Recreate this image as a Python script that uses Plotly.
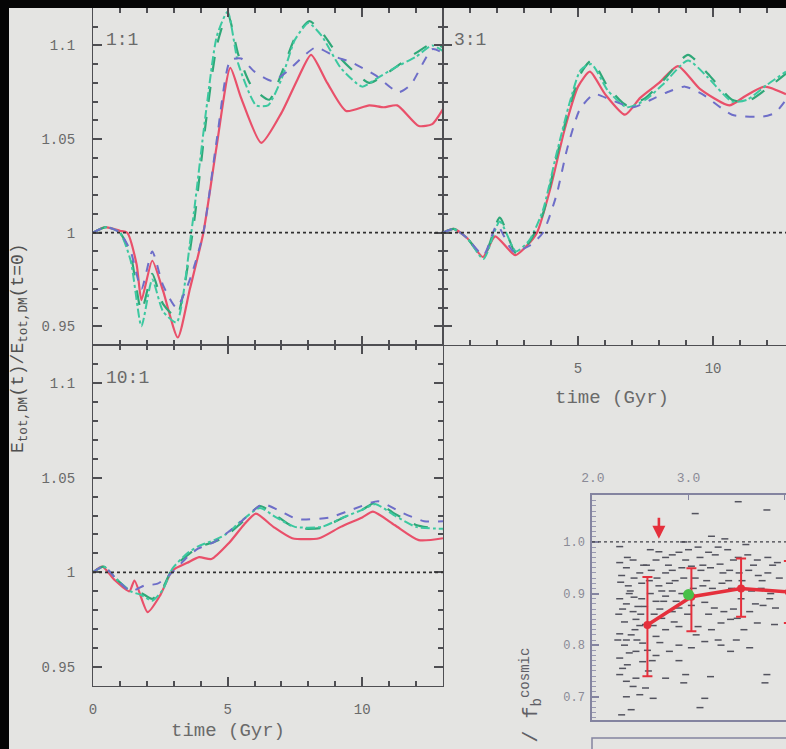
import plotly.graph_objects as go

W, H = 786, 749

# ---------------- energy ratio curves, E_tot,DM(t) / E_tot,DM(t=0) ----------------
# 1:1 merger
t11_red = [0, 0.45, 1.0, 1.27, 1.62, 1.8, 2.2, 2.6, 3.15, 3.6, 4.1, 4.58, 5.1, 5.5, 6.25, 7.0, 7.6, 8.1, 8.7, 9.4, 10.26, 10.8, 11.3, 12.1, 12.6, 13.0]
e11_red = [1.0, 1.003, 1.001, 1.0, 0.983, 0.964, 0.985, 0.969, 0.944, 0.970, 1.0, 1.045, 1.088, 1.072, 1.048, 1.064, 1.082, 1.095, 1.080, 1.065, 1.068, 1.067, 1.068, 1.057, 1.058, 1.066]

t11_green = [0, 0.5, 1.0, 1.4, 1.8, 2.2, 2.6, 3.1, 3.7, 4.2, 4.6, 5.0, 5.4, 5.9, 6.55, 7.0, 7.5, 8.04, 8.5, 9.2, 10.26, 10.8, 11.4, 12.0, 12.6, 13.0]
e11_green = [1.0, 1.003, 1.0, 0.988, 0.958, 0.978, 0.962, 0.955, 1.0, 1.06, 1.10, 1.117, 1.095, 1.078, 1.071, 1.085, 1.104, 1.113, 1.107, 1.093, 1.080, 1.084, 1.090, 1.096, 1.101, 1.099]

t11_teal = [0, 0.5, 1.0, 1.4, 1.8, 2.2, 2.6, 3.1, 3.65, 4.2, 4.6, 5.0, 5.4, 6.06, 6.5, 7.0, 7.5, 8.0, 8.5, 9.2, 10.0, 10.5, 11.2, 12.0, 12.6, 13.0]
e11_teal = [1.0, 1.003, 1.0, 0.985, 0.950, 0.975, 0.958, 0.952, 1.0, 1.065, 1.105, 1.118, 1.09, 1.068, 1.068, 1.082, 1.103, 1.112, 1.105, 1.088, 1.078, 1.082, 1.088, 1.094, 1.100, 1.097]

t11_blue = [0, 0.5, 1.0, 1.4, 1.8, 2.2, 2.6, 3.1, 3.6, 4.1, 4.6, 5.1, 5.5, 6.0, 6.67, 7.2, 7.8, 8.28, 9.0, 9.6, 10.5, 11.35, 11.8, 12.6, 13.0]
e11_blue = [1.0, 1.003, 1.0, 0.99, 0.970, 0.990, 0.972, 0.960, 0.975, 1.0, 1.05, 1.092, 1.093, 1.086, 1.081, 1.086, 1.094, 1.099, 1.094, 1.091, 1.084, 1.075, 1.079, 1.098, 1.096]

# 3:1 merger
t31_red = [0, 0.4, 0.9, 1.48, 1.93, 2.67, 3.1, 3.48, 4.0, 4.5, 5.0, 5.44, 6.0, 6.74, 7.3, 8.0, 8.7, 9.5, 10.6, 11.2, 11.9, 12.7]
e31_red = [1.0, 1.002, 0.997, 0.987, 0.998, 0.988, 0.993, 1.0, 1.025, 1.055, 1.078, 1.086, 1.074, 1.063, 1.072, 1.080, 1.089, 1.077, 1.068, 1.073, 1.078, 1.074]

t31_green = [0, 0.4, 0.9, 1.5, 2.1, 2.7, 3.2, 3.7, 4.2, 4.7, 5.1, 5.5, 6.1, 6.8, 7.5, 8.2, 9.07, 9.8, 10.7, 11.26, 12.0, 12.7]
e31_green = [1.0, 1.002, 0.997, 0.987, 1.008, 0.989, 0.995, 1.01, 1.04, 1.068, 1.085, 1.092, 1.078, 1.068, 1.072, 1.082, 1.095, 1.085, 1.071, 1.070, 1.077, 1.085]

t31_teal = [0, 0.4, 0.9, 1.5, 2.1, 2.7, 3.2, 3.7, 4.2, 4.7, 5.1, 5.5, 6.1, 6.8, 7.5, 8.2, 9.07, 9.8, 10.7, 11.26, 12.0, 12.7]
e31_teal = [1.0, 1.002, 0.997, 0.986, 1.006, 0.990, 0.996, 1.012, 1.042, 1.070, 1.087, 1.090, 1.076, 1.067, 1.071, 1.080, 1.092, 1.083, 1.070, 1.071, 1.079, 1.086]

t31_blue = [0, 0.4, 0.9, 1.5, 2.0, 2.6, 3.2, 3.7, 4.2, 4.6, 5.07, 5.6, 6.2, 7.04, 7.7, 8.3, 8.96, 9.6, 10.7, 11.85, 12.3, 12.7]
e31_blue = [1.0, 1.002, 0.997, 0.988, 1.004, 0.990, 0.993, 1.0, 1.02, 1.045, 1.066, 1.074, 1.071, 1.067, 1.071, 1.075, 1.078, 1.074, 1.063, 1.062, 1.064, 1.071]

# 10:1 merger
t101_red = [0, 0.35, 0.8, 1.35, 1.54, 2.03, 2.5, 2.95, 3.5, 3.94, 4.4, 5.05, 5.6, 6.05, 6.7, 7.4, 8.4, 9.2, 10.0, 10.4, 11.2, 12.1, 13.0]
e101_red = [1.0, 1.003, 0.996, 0.990, 0.9957, 0.979, 0.988, 1.001, 1.005, 1.008, 1.007, 1.0155, 1.025, 1.031, 1.024, 1.018, 1.018, 1.024, 1.029, 1.032, 1.025, 1.017, 1.018]

t101_green = [0, 0.4, 0.9, 1.4, 1.8, 2.2, 2.6, 2.95, 3.5, 3.94, 4.5, 4.93, 5.5, 6.2, 6.8, 7.5, 8.5, 9.3, 10.0, 10.5, 11.2, 12.0, 13.0]
e101_green = [1.0, 1.003, 0.996, 0.990, 0.989, 0.986, 0.992, 1.002, 1.009, 1.0135, 1.016, 1.019, 1.026, 1.035, 1.030, 1.0235, 1.0235, 1.029, 1.033, 1.037, 1.031, 1.025, 1.0225]

t101_teal = [0, 0.4, 0.9, 1.4, 1.8, 2.2, 2.6, 2.95, 3.5, 3.94, 4.5, 4.93, 5.5, 6.2, 6.8, 7.5, 8.5, 9.3, 10.0, 10.5, 11.2, 12.0, 13.0]
e101_teal = [1.0, 1.003, 0.996, 0.990, 0.988, 0.985, 0.991, 1.002, 1.010, 1.014, 1.017, 1.020, 1.027, 1.034, 1.029, 1.024, 1.024, 1.029, 1.033, 1.036, 1.030, 1.024, 1.023]

t101_blue = [0, 0.4, 0.9, 1.4, 1.9, 2.4, 2.95, 3.5, 3.9, 4.5, 5.0, 5.6, 6.3, 7.0, 7.6, 8.8, 9.6, 10.6, 11.4, 12.3, 13.0]
e101_blue = [1.0, 1.003, 0.996, 0.990, 0.993, 0.994, 1.0, 1.008, 1.0125, 1.016, 1.021, 1.028, 1.036, 1.032, 1.028, 1.029, 1.033, 1.0375, 1.032, 1.027, 1.027]

REF_LEVEL = 1.0
panel_labels = ["1:1", "3:1", "10:1"]
ytick_vals = [0.95, 1.0, 1.05, 1.1]
ytick_text = ["0.95", "1", "1.05", "1.1"]
xtick_vals = [0, 5, 10]

# ---------------- baryon fraction scatter (inset) ----------------
cloud_x = [2.28, 2.35, 2.42, 2.49, 2.56, 2.66, 2.76, 2.83, 2.90, 3.00, 3.10, 3.21, 3.31, 3.41, 3.52, 3.62, 3.72, 3.83, 3.93,
           2.29, 2.37, 2.43, 2.51, 2.59, 2.67, 2.76, 2.83, 2.93, 3.03, 3.13, 3.23, 3.33, 3.43, 3.53, 3.63, 3.73, 3.83,
           2.28, 2.35, 2.43, 2.51, 2.66, 2.76, 2.83, 2.93, 3.15, 3.25, 3.35, 3.45, 3.66, 3.76, 3.86, 3.96,
           2.27, 2.33, 2.42, 2.49, 2.63, 2.72, 2.83, 2.90, 3.03, 3.17, 3.27, 3.37, 3.51, 3.64, 3.78, 3.91,
           2.28, 2.35, 2.44, 2.52, 2.66, 2.76, 2.90, 3.10, 3.24, 3.34, 3.44, 3.58, 3.72,
           2.28, 2.36, 2.45, 2.52, 2.66, 2.80, 2.90, 3.03, 3.17, 3.34, 3.44, 3.64,
           2.28, 2.35, 2.45, 2.55, 2.49, 2.63, 2.76, 2.97, 3.17, 3.82, 2.40,
           3.52, 3.82, 3.07, 3.38, 2.28, 2.69, 3.24,
           3.12, 3.80, 2.95, 3.23,
           2.31, 2.38, 2.45, 2.54, 2.60, 2.70, 2.33, 2.40, 2.50, 2.57, 2.64, 2.72, 2.80, 2.87, 2.95, 3.05,
           2.30, 2.39, 2.47, 2.53, 2.61, 2.69, 2.74, 2.79, 2.86, 2.97, 3.07, 3.12, 3.19, 3.28, 3.36, 3.47, 3.56, 3.68, 3.77, 3.88, 3.95,
           2.26, 2.31, 2.38, 2.46, 2.55, 2.62, 2.70, 2.85, 2.99, 3.08, 3.21, 3.31, 3.47, 3.55, 3.70, 3.85,
           2.35, 2.42, 2.58, 2.30, 2.90, 3.50, 3.90, 2.60, 2.95, 3.60, 2.36, 3.15, 3.42]
cloud_y = [0.960, 0.950, 0.965, 0.940, 0.955, 0.965, 0.970, 0.975, 0.980, 0.985, 0.990, 0.980, 0.990, 0.985, 0.970, 0.975, 0.965, 0.970, 0.960,
           0.922, 0.915, 0.930, 0.920, 0.925, 0.930, 0.940, 0.945, 0.950, 0.953, 0.945, 0.950, 0.957, 0.945, 0.940, 0.945, 0.935, 0.940,
           0.890, 0.880, 0.893, 0.890, 0.885, 0.895, 0.905, 0.900, 0.915, 0.910, 0.920, 0.910, 0.905, 0.910, 0.900, 0.905,
           0.860, 0.845, 0.865, 0.838, 0.838, 0.852, 0.865, 0.872, 0.877, 0.883, 0.872, 0.865, 0.852, 0.865, 0.877, 0.872,
           0.822, 0.810, 0.830, 0.804, 0.817, 0.830, 0.836, 0.836, 0.830, 0.843, 0.850, 0.830, 0.843,
           0.775, 0.762, 0.788, 0.768, 0.780, 0.788, 0.800, 0.795, 0.807, 0.800, 0.788, 0.795,
           0.743, 0.730, 0.736, 0.717, 0.704, 0.697, 0.736, 0.743, 0.697, 0.743, 0.675,
           1.078, 1.062, 1.055, 1.006, 0.991, 0.981, 1.011,
           0.679, 0.727, 0.727, 0.739,
           0.870, 0.900, 0.850, 0.875, 0.900, 0.870, 0.800, 0.820, 0.860, 0.790, 0.860, 0.905, 0.920, 0.885, 0.930, 0.910,
           0.935, 0.905, 0.875, 0.955, 0.945, 0.915, 0.885, 0.955, 0.925, 0.965, 0.930, 0.970, 0.925, 0.975, 0.940, 0.965, 0.925, 0.955, 0.925, 0.955, 0.930,
           0.810, 0.755, 0.785, 0.810, 0.840, 0.770, 0.805, 0.845, 0.860, 0.820, 0.860, 0.810, 0.870, 0.890, 0.880, 0.890,
           0.700, 0.720, 0.750, 0.665, 0.770, 0.810, 0.840, 0.985, 1.000, 0.995, 0.970, 0.955, 0.925]

mean_x = [2.57, 3.03, 3.55, 4.05]
mean_y = [0.839, 0.894, 0.910, 0.903]
err_plus = [0.093, 0.055, 0.058, 0.06]
err_minus = [0.099, 0.067, 0.055, 0.06]
mw_x, mw_y = [3.0], [0.898]
arrow_x = 2.69

# ---------------- styling ----------------
BG = "#e4e4e2"
AX = "#4e4e52"
TXT = "#6a6a6a"
RED = "#e9506a"
GREEN = "#2fa878"
TEAL = "#3cc8a0"
BLUE = "#6e6ec8"
MONO = "Liberation Mono"
INSET = "#8484a0"


def px_x(p):
    return p / W


def px_y(p):
    return 1 - p / H


fig = go.Figure()

panels = [
    ("x", "y", [(t11_red, e11_red), (t11_green, e11_green), (t11_teal, e11_teal), (t11_blue, e11_blue)]),
    ("x2", "y2", [(t31_red, e31_red), (t31_green, e31_green), (t31_teal, e31_teal), (t31_blue, e31_blue)]),
    ("x3", "y3", [(t101_red, e101_red), (t101_green, e101_green), (t101_teal, e101_teal), (t101_blue, e101_blue)]),
]
styles = [(RED, "solid", 2.2), (GREEN, "longdash", 2.2), (TEAL, "dashdot", 2.0), (BLUE, "dash", 2.0)]

for xa, ya, series in panels:
    for (t, e), (col, dash, w) in zip(series, styles):
        fig.add_trace(go.Scatter(x=t, y=e, mode="lines", xaxis=xa, yaxis=ya,
                                 line=dict(color=col, dash=dash, width=w, shape="spline", smoothing=0.6),
                                 showlegend=False, hoverinfo="skip"))
    fig.add_shape(type="line", xref=xa, yref=ya, x0=0, x1=13, y0=REF_LEVEL, y1=REF_LEVEL,
                  line=dict(color="#303030", width=1.6, dash="dot"))

# inset scatter
fig.add_trace(go.Scatter(x=cloud_x, y=cloud_y, mode="markers", xaxis="x4", yaxis="y4",
                         marker=dict(symbol="line-ew", size=5, line=dict(color="#3a3a48", width=1.5)),
                         opacity=0.85, showlegend=False, hoverinfo="skip"))
fig.add_trace(go.Scatter(x=mean_x, y=mean_y, mode="lines+markers", xaxis="x4", yaxis="y4",
                         line=dict(color="#e5303c", width=3.5),
                         marker=dict(color="#e5303c", size=8),
                         error_y=dict(type="data", symmetric=False, array=err_plus, arrayminus=err_minus,
                                      color="#e5303c", thickness=2, width=5),
                         showlegend=False, hoverinfo="skip"))
fig.add_trace(go.Scatter(x=mw_x, y=mw_y, mode="markers", xaxis="x4", yaxis="y4",
                         marker=dict(color="#48c048", size=11), showlegend=False, hoverinfo="skip"))
fig.add_shape(type="line", xref="x4", yref="y4", x0=1.99, x1=4.02, y0=1.0, y1=1.0,
              line=dict(color="#404048", width=1.3, dash="dot"))
fig.add_annotation(x=arrow_x, y=1.006, ax=arrow_x, ay=1.05, xref="x4", yref="y4", axref="x4", ayref="y4",
                   text="", showarrow=True, arrowhead=2, arrowsize=1, arrowwidth=2.6, arrowcolor="#e5303c")

# ---------------- axes ----------------
tickfont = dict(family=MONO, size=14, color=TXT)


def xaxis_cfg(domain, rng, anchor, labels, vals=None):
    vals = vals if vals else xtick_vals
    return dict(domain=domain, range=rng, anchor=anchor, automargin=False,
                showline=True, linecolor=AX, linewidth=1.3,
                mirror="ticks", ticks="inside", ticklen=9, tickwidth=1.8, tickcolor=AX,
                tickvals=vals, ticktext=[str(v) for v in vals],
                showticklabels=labels, tickfont=tickfont, ticklabelstandoff=10,
                minor=dict(ticks="inside", ticklen=5, tickwidth=1.6, tickcolor=AX,
                           tickmode="linear", tick0=0, dtick=1),
                showgrid=False, zeroline=False, fixedrange=True)


def yaxis_cfg(domain, anchor, labels, mirror="ticks"):
    return dict(domain=domain, range=[0.94, 1.12], anchor=anchor, automargin=False,
                showline=True, linecolor=AX, linewidth=1.3,
                mirror=mirror, ticks="inside", ticklen=9, tickwidth=1.8, tickcolor=AX,
                tickvals=ytick_vals, ticktext=ytick_text, showticklabels=labels, tickfont=tickfont,
                ticklabelstandoff=14,
                minor=dict(ticks="inside", ticklen=5, tickwidth=1.6, tickcolor=AX,
                           tickmode="linear", tick0=0.95, dtick=0.01),
                showgrid=False, zeroline=False, fixedrange=True)


left_dom = [px_x(93), px_x(443)]
right_dom = [px_x(443), 1.0]
top_dom = [px_y(345), px_y(8)]
bot_dom = [px_y(686), px_y(345)]

fig.update_layout(
    width=W, height=H, margin=dict(l=0, r=0, t=0, b=0, autoexpand=False),
    paper_bgcolor=BG, plot_bgcolor=BG, showlegend=False,
    xaxis=xaxis_cfg(left_dom, [0, 13], "y", False),
    yaxis=yaxis_cfg(top_dom, "x", True),
    xaxis2=xaxis_cfg(right_dom, [0, 12.7], "y2", True, [5, 10]),
    yaxis2=yaxis_cfg(top_dom, "x2", False, mirror=False),
    xaxis3=xaxis_cfg(left_dom, [0, 13], "y3", True),
    yaxis3=yaxis_cfg(bot_dom, "x3", True),
    xaxis4=dict(domain=[px_x(592), 1.0], range=[1.99, 4.02], anchor="y4", side="top", automargin=False,
                showline=True, linecolor=INSET, linewidth=1.5, mirror=True,
                ticks="inside", ticklen=5, tickwidth=1.4, tickcolor=INSET, tickvals=[2.0, 3.0, 4.0],
                ticktext=["2.0", "3.0", "4.0"], tickfont=dict(family=MONO, size=13, color="#8a8a96"),
                ticklabelstandoff=6, showgrid=False, zeroline=False, fixedrange=True),
    yaxis4=dict(domain=[px_y(720), px_y(495)], range=[0.655, 1.091], anchor="x4", automargin=False,
                showline=True, linecolor=INSET, linewidth=1.5, mirror=True,
                ticks="inside", ticklen=7, tickwidth=1.5, tickcolor=INSET, tickvals=[0.7, 0.8, 0.9, 1.0],
                ticktext=["0.7", "0.8", "0.9", "1.0"], tickfont=dict(family=MONO, size=12, color="#8a8a96"),
                ticklabelstandoff=3,
                minor=dict(ticks="inside", ticklen=4, tickwidth=1.3, tickcolor="#9898b0",
                           tickmode="linear", tick0=0.7, dtick=0.01),
                showgrid=False, zeroline=False, fixedrange=True),
)

# ---------------- text ----------------
lab = dict(family=MONO, size=18, color=TXT)
fig.add_annotation(x=px_x(104), y=px_y(40), xref="paper", yref="paper", text=panel_labels[0],
                   showarrow=False, xanchor="left", yanchor="middle", font=lab)
fig.add_annotation(x=px_x(452), y=px_y(40), xref="paper", yref="paper", text=panel_labels[1],
                   showarrow=False, xanchor="left", yanchor="middle", font=lab)
fig.add_annotation(x=px_x(104), y=px_y(378), xref="paper", yref="paper", text=panel_labels[2],
                   showarrow=False, xanchor="left", yanchor="middle", font=lab)

title_font = dict(family=MONO, size=19, color=TXT)
fig.add_annotation(x=px_x(228), y=px_y(731), xref="paper", yref="paper", text="time (Gyr)",
                   showarrow=False, xanchor="center", yanchor="middle", font=title_font)
fig.add_annotation(x=px_x(612), y=px_y(398), xref="paper", yref="paper", text="time (Gyr)",
                   showarrow=False, xanchor="center", yanchor="middle", font=title_font)
fig.add_annotation(x=px_x(19), y=px_y(348), xref="paper", yref="paper",
                   text="E<sub>tot,DM</sub>(t)/E<sub>tot,DM</sub>(t=0)", textangle=-90,
                   showarrow=False, xanchor="center", yanchor="middle",
                   font=dict(family=MONO, size=18, color="#505050"))
fig.add_annotation(x=px_x(531), y=px_y(646), xref="paper", yref="paper",
                   text="/ f<sub>b</sub><sup>cosmic</sup>", textangle=-90,
                   showarrow=False, xanchor="center", yanchor="top",
                   font=dict(family=MONO, size=20, color="#606066"))

# lower frame of the next panel, and the dark screen border
fig.add_shape(type="rect", xref="paper", yref="paper", x0=px_x(592), x1=1.05, y0=-0.05, y1=px_y(738),
              line=dict(color=INSET, width=1.5), layer="above")
fig.add_shape(type="rect", xref="paper", yref="paper", x0=0, x1=1, y0=px_y(8), y1=1,
              fillcolor="#050505", line=dict(width=0), layer="above")
fig.add_shape(type="rect", xref="paper", yref="paper", x0=0, x1=px_x(9), y0=0, y1=1,
              fillcolor="#050505", line=dict(width=0), layer="above")

fig.write_html("out.html")
